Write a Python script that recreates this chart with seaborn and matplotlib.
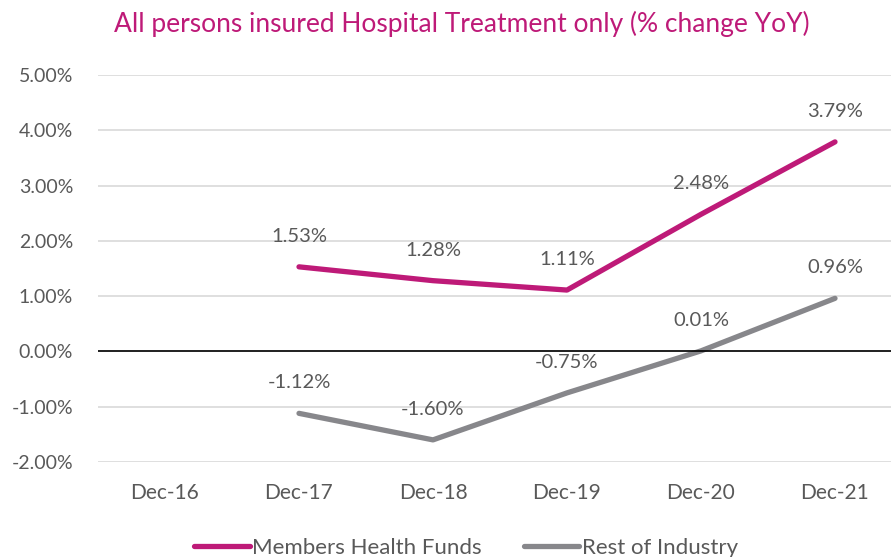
import numpy as np
import pandas as pd
import matplotlib
matplotlib.use('Agg')
import matplotlib.pyplot as plt
import seaborn as sns

# Data (% change YoY)
periods = ['Dec-16', 'Dec-17', 'Dec-18', 'Dec-19', 'Dec-20', 'Dec-21']
members = [np.nan, 1.53, 1.28, 1.11, 2.48, 3.79]
rest = [np.nan, -1.12, -1.60, -0.75, 0.01, 0.96]
series_names = ['Members Health Funds', 'Rest of Industry']

magenta = '#BE1A78'
grey = '#87878B'
text_grey = '#595959'

sns.set_theme(style='white')
plt.rcParams['font.family'] = ['Lato', 'DejaVu Sans']

df = pd.DataFrame({
    'pos': list(range(len(periods))) * 2,
    'value': members + rest,
    'series': [series_names[0]] * len(periods) + [series_names[1]] * len(periods),
})

fig = plt.figure(figsize=(8.91, 5.57), dpi=100)
ax = fig.add_axes([98 / 891, 95 / 557, 804 / 891, 387 / 557])

sns.lineplot(data=df.dropna(), x='pos', y='value', hue='series',
             palette=[magenta, grey], linewidth=3.8, ax=ax, legend=False,
             solid_capstyle='round')

# data labels above points
for vals in (members, rest):
    for i, v in enumerate(vals):
        if not np.isnan(v):
            ax.annotate(f'{v:.2f}%', (i, v), xytext=(0, 22), textcoords='offset points',
                        ha='center', va='center', fontsize=14.5, color=text_grey)

ax.set_xlim(-0.5, len(periods) - 0.5)
ax.set_ylim(-2, 5)
ax.set_xticks(range(len(periods)))
ax.set_xticklabels(periods)
ax.set_yticks(np.arange(-2, 5.01, 1))
ax.set_yticklabels([f'{t:.2f}%' for t in np.arange(-2, 5.01, 1)])
ax.tick_params(axis='both', length=0, colors=text_grey)
ax.tick_params(axis='x', pad=15, labelsize=15)
ax.tick_params(axis='y', pad=18, labelsize=14)
ax.yaxis.grid(True, color='#D9D9D9', linewidth=1.2)
ax.axhline(0, color='black', linewidth=1.2)
ax.set_axisbelow(True)
for s in ax.spines.values():
    s.set_visible(False)
ax.set_xlabel('')
ax.set_ylabel('')

fig.text(462 / 891, 1 - 24 / 557, 'All persons insured Hospital Treatment only (% change YoY)',
         ha='center', va='center', fontsize=19, color=magenta)

handles = [plt.Line2D([], [], color=c, linewidth=3.8, solid_capstyle='round') for c in (magenta, grey)]
fig.legend(handles, series_names, loc='center', bbox_to_anchor=(466 / 891, 1 - 548 / 557),
           ncol=2, frameon=False, prop={'size': 16},
           handlelength=2.5, handletextpad=0.1, columnspacing=1.9, labelcolor=text_grey)

fig.savefig('out.png', dpi=100)
